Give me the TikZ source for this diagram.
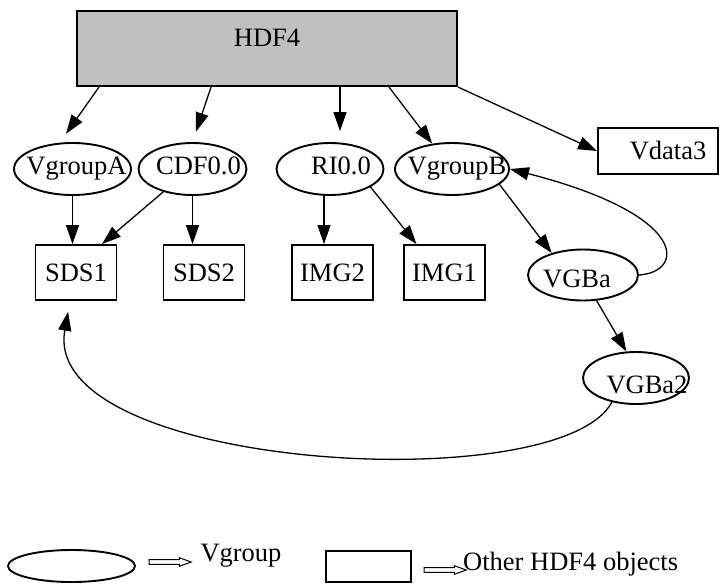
\documentclass[tikz,border=0pt]{standalone}
\usepackage{fontspec}
\setmainfont{Liberation Serif}
\usetikzlibrary{shapes,arrows.meta}
\definecolor{hdfgray}{RGB}{192,192,192}
\newcommand\fsz{\fontsize{26.5}{30}\selectfont}
% text moved by dx, dy inside a node of fixed size
\newcommand\ntext[3]{\makebox[0pt]{\hspace*{#1}\hspace*{#1}\raisebox{#2}{#3}}}

\begin{document}
\begin{tikzpicture}[x=1pt,y=-1pt,
    vgroup/.style={draw, ellipse, line width=1.9pt, inner sep=0pt, minimum height=52pt,
      font=\fsz, text height=17pt, text depth=6pt},
    hobj/.style={draw, rectangle, line width=1.9pt, inner sep=0pt, minimum width=81pt,
      minimum height=55pt, font=\fsz, text height=17pt, text depth=0pt},
    edge/.style={line width=1.3pt, -{Triangle[length=19pt,width=13pt]}},
    gap/.style={shorten >=11pt},
    legarrow/.style={single arrow, draw, line width=1pt, minimum height=42pt, inner xsep=0pt,
      inner ysep=1.8pt, single arrow head extend=2pt, single arrow tip angle=40}]
  \useasboundingbox (0,0) rectangle (719,584);

  %top
  \node[draw, fill=hdfgray, line width=2.2pt, minimum width=380pt, minimum height=75pt, inner sep=0pt,
    font=\fsz, text height=17pt, text depth=21pt] (hdf) at (267,48.5) {HDF4};

  %first row
  \node[vgroup, minimum width=117pt] (vgA) at (72.5,169) {\ntext{4pt}{0pt}{VgroupA}};
  \node[vgroup, minimum width=108pt] (cdf) at (192.5,169) {\ntext{6pt}{0pt}{CDF0.0}};
  \node[vgroup, minimum width=107pt] (ri) at (330,169) {\ntext{11pt}{0pt}{RI0.0}};
  \node[vgroup, minimum width=114pt] (vgB) at (452,169) {\ntext{5pt}{0pt}{VgroupB}};
  \node[hobj, minimum width=120pt, minimum height=46pt] (vd3) at (658,151) {\ntext{10pt}{0pt}{Vdata3}};

  %second row
  \node[hobj] (sds1) at (76,272.5) {SDS1};
  \node[hobj] (sds2) at (204,272.5) {SDS2};
  \node[hobj] (img2) at (332.5,272.5) {IMG2};
  \node[hobj] (img1) at (444.5,272.5) {IMG1};
  \node[vgroup, minimum width=110pt, minimum height=51pt] (vgba) at (583,275) {\ntext{-6pt}{-7pt}{VGBa}};
  \node[vgroup, minimum width=106pt] (vgba2) at (636,378) {\ntext{11pt}{-10pt}{VGBa2}};

  \draw[edge, gap] ([xshift=-168pt]hdf.south) -- (vgA.116);
  \draw[edge, gap] ([xshift=-56pt]hdf.south) -- (cdf.north);
  \draw[edge, gap] ([xshift=73pt]hdf.south) -- ([xshift=10pt]ri.north);
  \draw[edge] ([xshift=122pt]hdf.south) -- (vgB.128);
  \draw[edge] (hdf.south east) -- (vd3.west);

  \draw[edge] (vgA) -- (vgA |- sds1.north);
  \draw[edge] (cdf.218) -- ([xshift=26pt]sds1.north);
  \draw[edge] (cdf) -- (cdf |- sds2.north);
  \draw[edge] ([xshift=-6pt]ri.south) -- ([xshift=-6pt]ri.south |- img2.north);
  \draw[edge] (ri.-24) -- ([xshift=-28pt]img1.north);
  \draw[edge] (vgB.-18) -- (vgba.145);
  \draw[edge] (vgba.east) .. controls (685,272) and (690,215) .. (vgB.east);
  \draw[edge] (vgba.-62) -- (vgba2.110);
  \draw[edge, gap] (vgba2.225) .. controls (560,500) and (40,470) .. ([xshift=-6pt]sds1.south);

  %legend
  \node[draw, ellipse, line width=1.9pt, minimum width=127pt, minimum height=32pt, inner sep=0pt] (lgell) at (71.5,566) {};
  \node[legarrow] (lgarA) at (167,562) {};
  \node[font=\fsz, inner sep=0pt, text height=17pt, text depth=0pt] (lgtxtA) at (241,553) {Vgroup};
  \node[draw, line width=1.9pt, minimum width=85pt, minimum height=31pt, inner sep=0pt] (lgbox) at (368.5,566.5) {};
  \node[legarrow] (lgarB) at (442,570) {};
  \node[font=\fsz, inner sep=0pt, text height=17pt, text depth=0pt, anchor=west] (lgtxtB) at (463,561.5) {Other HDF4 objects};
\end{tikzpicture}
\end{document}
